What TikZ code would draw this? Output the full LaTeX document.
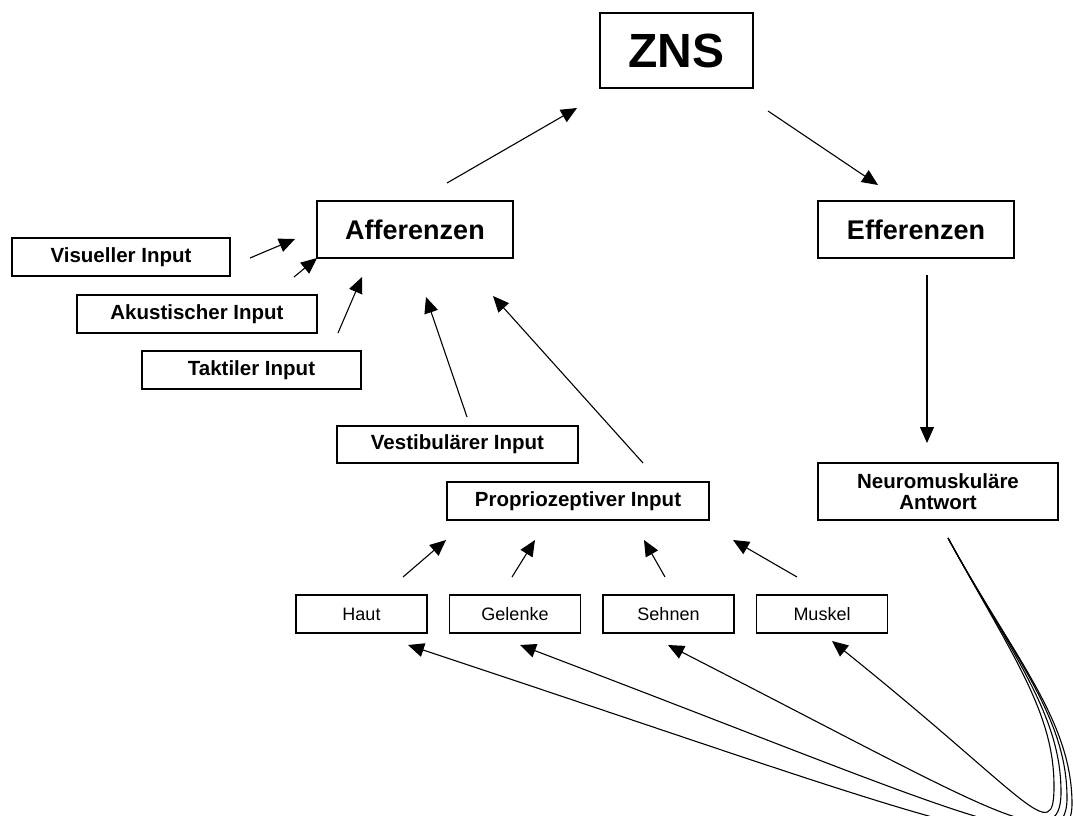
\documentclass[tikz,border=0pt]{standalone}
\usepackage{fontspec}
\setmainfont{Liberation Sans}
\usetikzlibrary{positioning,arrows.meta}

\begin{document}
\begin{tikzpicture}[x=1pt, y=-1pt,
node distance=21pt,
box/.style={draw, line width=1.5pt, inner sep=0pt, align=center},
inbox/.style={box, minimum height=38pt, font=\fontsize{20.5}{21}\selectfont\bfseries},
partbox/.style={box, minimum width=131pt, minimum height=38pt, font=\fontsize{18}{18}\selectfont},
arrow/.style={-{Triangle[length=16pt, width=14pt]}, line width=1.1pt}
]
\useasboundingbox (0,0) rectangle (1073,816);
% boxes
\node[box, minimum width=153pt, minimum height=75pt, font=\fontsize{48}{48}\selectfont\bfseries] (zns) at (676.5,50.5) {ZNS};
\node[box, minimum width=196pt, minimum height=57pt, font=\fontsize{27}{27}\selectfont\bfseries] (aff) at (415,229.5) {Afferenzen};
\node[box, minimum width=196pt, minimum height=57pt, font=\fontsize{27}{27}\selectfont\bfseries] (eff) at (916,229.5) {Efferenzen};
\node[inbox, minimum width=218pt] (vis) at (121,257) {Visueller Input};
\node[inbox, minimum width=240pt] (aku) at (197,314) {Akustischer Input};
\node[inbox, minimum width=219pt] (tak) at (251.5,370) {Taktiler Input};
\node[inbox, minimum width=241pt, minimum height=37pt] (ves) at (457.5,444.5) {Vestibulärer Input};
\node[inbox, minimum width=262pt] (pro) at (578,501) {Propriozeptiver Input};
\node[inbox, minimum width=240pt, minimum height=57pt] (neu) at (938,491.5) {Neuromuskuläre\\Antwort};
\node[partbox] (haut) at (361.5,614) {Haut};
\node[partbox, right=of haut] (gelenke) {Gelenke};
\node[partbox, right=of gelenke] (sehnen) {Sehnen};
\node[partbox, right=of sehnen] (muskel) {Muskel};
% arrow ends
\coordinate (aff-out) at (447,183); \coordinate (zns-in) at (577,108);
\coordinate (zns-out) at (768,111); \coordinate (eff-in) at (878,185);
\coordinate (eff-out) at (927,275); \coordinate (neu-in) at (927,443);
\coordinate (vis-out) at (250,258); \coordinate (aff-in1) at (295,239);
\coordinate (aku-out) at (294,277); \coordinate (aff-in2) at (317,258);
\coordinate (tak-out) at (338,333); \coordinate (aff-in3) at (362,277);
\coordinate (ves-out) at (467,417); \coordinate (aff-in4) at (426,297);
\coordinate (pro-out) at (643,463); \coordinate (aff-in5) at (493,296);
\coordinate (haut-out) at (403,577); \coordinate (pro-in1) at (446,540);
\coordinate (gelenke-out) at (512,577); \coordinate (pro-in2) at (535,540);
\coordinate (sehnen-out) at (665,577); \coordinate (pro-in3) at (644,540);
\coordinate (muskel-out) at (797,577); \coordinate (pro-in4) at (733,540);
\coordinate (neu-out) at (948,538);
\coordinate (haut-in) at (408,645);
\coordinate (gelenke-in) at (520,645);
\coordinate (sehnen-in) at (668,645);
\coordinate (muskel-in) at (832,641);
% arrows
\draw[arrow] (aff-out) -- (zns-in);
\draw[arrow] (zns-out) -- (eff-in);
\draw[arrow] (eff-out) -- (neu-in);
\draw[arrow] (vis-out) -- (aff-in1);
\draw[arrow] (aku-out) -- (aff-in2);
\draw[arrow] (tak-out) -- (aff-in3);
\draw[arrow] (ves-out) -- (aff-in4);
\draw[arrow] (pro-out) -- (aff-in5);
\draw[arrow] (haut-out) -- (pro-in1);
\draw[arrow] (gelenke-out) -- (pro-in2);
\draw[arrow] (sehnen-out) -- (pro-in3);
\draw[arrow] (muskel-out) -- (pro-in4);
% feedback loops
\draw[arrow] (neu-out) .. controls (1012,655) and (1054,712) .. (1054,786) .. controls (1054,848) and (1030,800) .. (muskel-in);
\draw[arrow] (neu-out) .. controls (1012,655) and (1061,714) .. (1061,792) .. controls (1061,858) and (1000,815) .. (sehnen-in);
\draw[arrow] (neu-out) .. controls (1012,655) and (1067,716) .. (1067,798) .. controls (1067,868) and (975,818) .. (gelenke-in);
\draw[arrow] (neu-out) .. controls (1012,655) and (1072,720) .. (1072,804) .. controls (1072,880) and (930,818) .. (haut-in);
\end{tikzpicture}
\end{document}
